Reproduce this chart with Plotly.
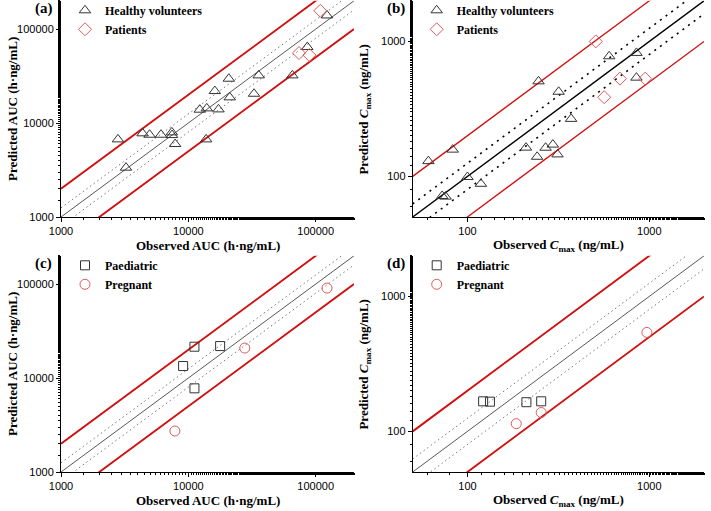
import numpy as np
import plotly.graph_objects as go

# ---------------- data ----------------
# (a) AUC, healthy volunteers / patients
a_hv_obs = [2800, 3240, 4370, 4960, 6100, 7420, 7450, 7880, 12300, 13960, 13800, 16150,
            17250, 20800, 21150, 32800, 35700, 65600, 86000, 122700]
a_hv_pred = [6700, 3350, 7770, 7510, 7510, 7950, 7450, 5980, 13870, 14320, 6700, 21900,
             13970, 29640, 18760, 20500, 32140, 32140, 64400, 139700]
a_pt_obs = [74000, 89200, 108800]
a_pt_pred = [55600, 52900, 156700]

# (b) Cmax, healthy volunteers / patients
b_hv_obs = [61, 83, 72.6, 75.8, 100, 118.6, 210, 241.7, 269, 295, 313, 246, 317.5, 371.7, 602, 850, 850]
b_hv_pred = [129.7, 157.8, 71.6, 70.8, 98.9, 88.1, 163.3, 139.7, 163, 172, 145.5, 506, 423.5, 266.7, 776, 822, 539]
b_pt_obs = [508, 565, 690, 950]
b_pt_pred = [1000, 386, 530, 530]

# (c) AUC, paediatric / pregnant
c_pd_obs = [11170, 17770, 9100, 11170]
c_pd_pred = [21550, 21890, 13420, 7770]
c_pg_obs = [7840, 27740, 122700]
c_pg_pred = [2730, 20850, 90670]

# (d) Cmax, paediatric / pregnant
d_pd_obs = [122, 133, 211, 254.5]
d_pd_pred = [167, 166, 164.5, 167]
d_pg_obs = [185.6, 254.5, 970]
d_pg_pred = [114, 138, 541]

auc_range = [1000, 200000]
cmax_range = [50, 2000]
auc_ticks = [1000, 10000, 100000]
cmax_ticks = [100, 1000]

fold_ratios = [1.0, 1.25, 0.8, 2.0, 0.5]

# ---------------- figure ----------------
W, H = 711, 511
fig = go.Figure()

SERIF = "Liberation Serif"
SANS = "Liberation Sans"
RED_LINE = "#d01010"
RED_MK = "#e05a5a"
GREY_MK = "#333333"

panels = [
    dict(x="x", y="y", xd=[61/W, 354/W], yd=[1-217/H, 1-0.8/H], rng=auc_range, ticks=auc_ticks,
         series=[("Healthy volunteers", a_hv_obs, a_hv_pred, "triangle-up-open", GREY_MK, 10),
                 ("Patients", a_pt_obs, a_pt_pred, "diamond-open", RED_MK, 10)],
         leg="legend", label="(a)", xt="Observed AUC (h·ng/mL)", yt="Predicted AUC (h·ng/mL)", strong=False),
    dict(x="x2", y="y2", xd=[412.7/W, 704/W], yd=[1-217/H, 1-0.8/H], rng=cmax_range, ticks=cmax_ticks,
         series=[("Healthy volunteers", b_hv_obs, b_hv_pred, "triangle-up-open", GREY_MK, 10),
                 ("Patients", b_pt_obs, b_pt_pred, "diamond-open", RED_MK, 10)],
         leg="legend2", label="(b)", xt="Observed <i>C</i><sub>max</sub> (ng/mL)",
         yt="Predicted <i>C</i><sub>max</sub> (ng/mL)", strong=True),
    dict(x="x3", y="y3", xd=[61/W, 354/W], yd=[1-472/H, 1-255.8/H], rng=auc_range, ticks=auc_ticks,
         series=[("Paediatric", c_pd_obs, c_pd_pred, "square-open", GREY_MK, 9),
                 ("Pregnant", c_pg_obs, c_pg_pred, "circle-open", RED_MK, 10)],
         leg="legend3", label="(c)", xt="Observed AUC (h·ng/mL)", yt="Predicted AUC (h·ng/mL)", strong=False),
    dict(x="x4", y="y4", xd=[412.7/W, 704/W], yd=[1-472/H, 1-255.8/H], rng=cmax_range, ticks=cmax_ticks,
         series=[("Paediatric", d_pd_obs, d_pd_pred, "square-open", GREY_MK, 9),
                 ("Pregnant", d_pg_obs, d_pg_pred, "circle-open", RED_MK, 10)],
         leg="legend4", label="(d)", xt="Observed <i>C</i><sub>max</sub> (ng/mL)",
         yt="Predicted <i>C</i><sub>max</sub> (ng/mL)", strong=False),
]

layout_axes = {}
annotations = []
for i, p in enumerate(panels):
    lo, hi = p["rng"]
    xs = np.array([lo, hi], dtype=float)
    for r in fold_ratios:
        if r == 1.0:
            line = dict(color="#000000" if p["strong"] else "#444444", width=1.4 if p["strong"] else 0.9)
        elif r in (2.0, 0.5):
            line = dict(color=RED_LINE, width=1.3 if p["strong"] else 1.9)
        else:
            if p["strong"]:
                line = dict(color="#000000", width=1.6, dash="2px,5px")
            else:
                line = dict(color="#777777", width=1, dash="1.5px,3px")
        fig.add_trace(go.Scatter(x=xs, y=xs * r, mode="lines", line=line, xaxis=p["x"], yaxis=p["y"],
                                 showlegend=False, hoverinfo="skip"))
    for name, ox, py, sym, col, sz in p["series"]:
        fig.add_trace(go.Scatter(x=ox, y=py, mode="markers", name="<b>" + name + "</b>",
                                 xaxis=p["x"], yaxis=p["y"], legend=p["leg"],
                                 marker=dict(symbol=sym, size=sz, color=col, line=dict(width=1, color=col))))
    sfx = "" if i == 0 else str(i + 1)
    ax_common = dict(type="log", showgrid=False, zeroline=False, showline=True, linecolor="#000000",
                     linewidth=1, ticks="outside", ticklen=4, tickcolor="#000000", tickwidth=1,
                     tickfont=dict(family=SANS, size=11, color="#000000"),
                     minor=dict(ticks="outside", ticklen=2, tickcolor="#000000", showgrid=False),
                     range=[np.log10(lo), np.log10(hi)], tickvals=p["ticks"],
                     ticktext=[str(t) for t in p["ticks"]], automargin=False)
    layout_axes["xaxis" + sfx] = dict(ax_common, domain=p["xd"], anchor=p["y"])
    layout_axes["yaxis" + sfx] = dict(ax_common, domain=p["yd"], anchor=p["x"])

    x0, x1 = p["xd"]
    y0, y1 = p["yd"]
    annotations.append(dict(text="<b>" + p["xt"] + "</b>", xref="paper", yref="paper", x=(x0 + x1) / 2,
                            y=y0 - 29 / H, xanchor="center", yanchor="middle", showarrow=False,
                            font=dict(family=SERIF, size=13, color="#000000")))
    annotations.append(dict(text="<b>" + p["yt"] + "</b>", xref="paper", yref="paper", x=x0 - 48 / W,
                            y=(y0 + y1) / 2, xanchor="center", yanchor="middle", showarrow=False,
                            textangle=-90, font=dict(family=SERIF, size=13, color="#000000")))
    annotations.append(dict(text="<b>" + p["label"] + "</b>", xref="paper", yref="paper",
                            x=x0 - 28 / W, y=y1 + 3 / H, xanchor="left", yanchor="top",
                            showarrow=False, font=dict(family=SERIF, size=15, color="#000000")))

legend_style = dict(font=dict(family=SERIF, size=12, color="#000000"), bgcolor="rgba(0,0,0,0)",
                    xanchor="left", yanchor="top", itemwidth=30, tracegroupgap=0)
legends = {}
for i, p in enumerate(panels):
    x0 = p["xd"][0]
    y1 = p["yd"][1]
    legends[p["leg"]] = dict(legend_style, x=x0 + 4 / W, y=y1 + 5 / H)

fig.update_layout(
    width=W, height=H, margin=dict(l=0, r=0, t=0, b=0, autoexpand=False),
    paper_bgcolor="#ffffff", plot_bgcolor="#ffffff",
    font=dict(family=SERIF, color="#000000"),
    annotations=annotations,
    **layout_axes, **legends,
)

fig.write_html("out.html", config={"displayModeBar": False},
               post_script="document.body.style.margin='0';document.body.style.overflow='hidden';")
